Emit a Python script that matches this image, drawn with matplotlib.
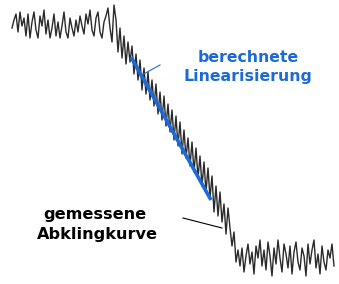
import numpy as np
import matplotlib
matplotlib.use("Agg")
import matplotlib.pyplot as plt

# gemessene Abklingkurve (x, y in Bildpunkten, y nach unten)
top_x = list(range(12, 116, 2))
top_y = [28, 20, 14, 32, 12, 26, 18, 36, 14, 38, 22, 12, 30, 38, 16, 26, 10, 34,
         20, 38, 28, 14, 36, 22, 38, 26, 12, 32, 38, 18, 28, 36, 20, 32, 16, 26,
         34, 14, 24, 10, 30, 36, 18, 12, 32, 38, 22, 16, 8, 28, 42, 5]
mid_x = list(range(116, 238, 2))
mid_y = [20, 52, 28, 58, 36, 64, 42, 62, 46, 74, 54, 80, 60, 90, 68, 94, 72, 100,
         80, 106, 84, 114, 92, 120, 96, 126, 104, 132, 110, 140, 116, 146, 122,
         154, 130, 158, 138, 166, 142, 172, 148, 178, 156, 186, 162, 192, 168,
         198, 176, 212, 186, 216, 192, 222, 204, 234, 208, 228, 246, 232, 262]
low_x = list(range(238, 336, 2))
low_y = [250, 266, 248, 272, 256, 244, 264, 252, 274, 246, 258, 240, 266, 250,
         270, 242, 256, 276, 248, 264, 240, 258, 272, 244, 254, 268, 246, 274,
         252, 242, 262, 270, 248, 256, 276, 244, 264, 250, 240, 268, 254, 274,
         246, 262, 270, 250, 258, 244, 266]

curve_x = top_x + mid_x + low_x
curve_y = top_y + mid_y + low_y

# berechnete Linearisierung
lin_x = [131, 211]
lin_y = [57, 200]

blue = "#1c6ad8"

fig = plt.figure(figsize=(3.39, 2.84), dpi=100)
ax = fig.add_axes([0, 0, 1, 1])
ax.set_xlim(0, 339)
ax.set_ylim(284, 0)
ax.axis("off")

ax.plot(curve_x, curve_y, color="#2a2a2a", lw=1.0)
ax.plot(lin_x, lin_y, color=blue, lw=2.6, solid_capstyle="butt")

# Hinweislinien
ax.plot([140, 160], [76, 65], color=blue, lw=0.8)
ax.plot([183, 222], [218, 228], color="black", lw=0.8)

ax.text(248, 58, "berechnete", color=blue, fontsize=11.3, fontweight="bold",
        ha="center", va="center")
ax.text(248, 77, "Linearisierung", color=blue, fontsize=11.3, fontweight="bold",
        ha="center", va="center")
ax.text(95, 215, "gemessene", color="black", fontsize=11.6, fontweight="bold",
        ha="center", va="center")
ax.text(97, 235, "Abklingkurve", color="black", fontsize=11.6, fontweight="bold",
        ha="center", va="center")

fig.savefig("out.png", dpi=100)
